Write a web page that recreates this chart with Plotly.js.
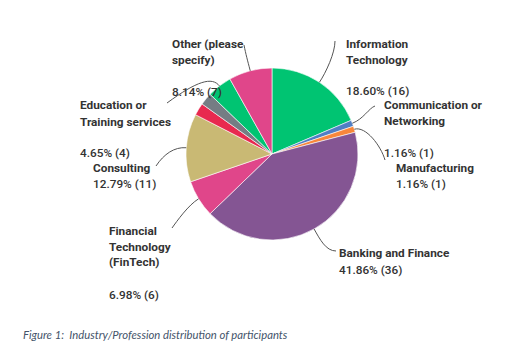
<!DOCTYPE html>
<html><head><meta charset="utf-8">
<script src="https://cdn.plot.ly/plotly-3.0.1.min.js"></script>
<style>html,body{margin:0;padding:0;background:#fff}</style>
</head><body><div id="chart" style="width:527px;height:356px"></div>
<script>
// ---- data ----
const categories = ["Information Technology","Communication or Networking","Manufacturing","Banking and Finance","Financial Technology (FinTech)","Consulting","Unlabeled A","Unlabeled B","Education or Training services","Other (please specify)"];
const counts = [16,1,1,36,6,11,2,2,4,7];
const colors = ["#00c472","#4f7ec4","#f7873b","#845593","#e0468a","#c9b974","#e8294f","#757d84","#00c472","#e0468a"];
const total = counts.reduce((a,b)=>a+b,0);
const pctLabel = i => (counts[i]/total*100).toFixed(2) + "% (" + counts[i] + ")";

// ---- layout helpers (pixel space) ----
const W = 527, H = 356, CX = 272, CY = 154, R = 86;
const px = x => x / W, py = y => 1 - y / H;

// label layout: category index, name lines, left x, name line y's, pct line y
const labelLayout = [
  {i:0, name:["Information","Technology"], x:345, ys:[44,60], px:345, py:91, end:[335,41], c2:[0,12]},
  {i:1, name:["Communication or","Networking"], x:383, ys:[105,121], px:383, py:153, end:[375,106], c2:[-6,2]},
  {i:2, name:["Manufacturing"], x:395, ys:[168], px:395, py:184, end:[385,160], c2:[-4,-14]},
  {i:3, name:["Banking and Finance"], x:338, ys:[253], px:338, py:270, end:[336,251], c2:[-10,0]},
  {i:4, name:["Financial","Technology","(FinTech)"], x:108, ys:[231,247,262], px:108, py:295, end:[172,228], c2:[5,-7]},
  {i:5, name:["Consulting"], x:92, ys:[168], px:92, py:184, end:[156,166], c2:[8,-12]},
  {i:8, name:["Education or","Training services"], x:79, ys:[105,122], px:79, py:153, end:[167,103], c2:[30,-22]},
  {i:9, name:["Other (please","specify)"], x:171, ys:[44,60], px:171, py:92, end:[244,45], c2:[2,10]}
];

const textColor = "#333333";
const annotations = [];
const shapes = [];
// cumulative angles from data
const cum = []; let acc = 0;
counts.forEach(v => { cum.push(acc); acc += v; });

labelLayout.forEach(L => {
  L.name.forEach((t, k) => annotations.push({
    text: t, x: px(L.x - 1), y: py(L.ys[k]), xref:"paper", yref:"paper",
    xanchor:"left", yanchor:"middle", showarrow:false,
    font:{family:"Roboto", size:11.8, color:textColor, weight:700}
  }));
  annotations.push({
    text: pctLabel(L.i), x: px(L.px - 1), y: py(L.py), xref:"paper", yref:"paper",
    xanchor:"left", yanchor:"middle", showarrow:false,
    font:{family:"Roboto", size:11.8, color:textColor, weight:500}
  });
  // leader line from slice mid-angle on the rim
  const th = (cum[L.i] + counts[L.i]/2) / total * 2 * Math.PI;
  const sx = CX + R*Math.sin(th), sy = CY - R*Math.cos(th);
  const c1x = sx + 12*Math.sin(th), c1y = sy - 12*Math.cos(th);
  const ex = L.end[0], ey = L.end[1];
  const c2x = ex + L.c2[0], c2y = ey + L.c2[1];
  shapes.push({
    type:"path", xref:"paper", yref:"paper",
    path:`M ${px(sx)},${py(sy)} C ${px(c1x)},${py(c1y)} ${px(c2x)},${py(c2y)} ${px(ex)},${py(ey)}`,
    line:{color:"#555", width:1}
  });
});

annotations.push({
  text:"Figure 1:  Industry/Profession distribution of participants",
  x: px(21), y: py(334), xref:"paper", yref:"paper", xanchor:"left", yanchor:"middle",
  showarrow:false, font:{family:"Lato", size:11.3, color:"#44546a", style:"italic"}
});

const trace = {
  type:"pie", labels:categories, values:counts, sort:false, direction:"clockwise", rotation:0,
  marker:{colors:colors, line:{color:"#ffffff", width:0.6}},
  textinfo:"none", hoverinfo:"none", showlegend:false,
  domain:{x:[px(CX-R), px(CX+R)], y:[py(CY+R), py(CY-R)]}
};

Plotly.newPlot("chart", [trace], {
  width:W, height:H, margin:{l:0,r:0,t:0,b:0},
  paper_bgcolor:"#fff", plot_bgcolor:"#fff",
  annotations:annotations, shapes:shapes, showlegend:false
}, {staticPlot:true, displayModeBar:false});
</script></body></html>
